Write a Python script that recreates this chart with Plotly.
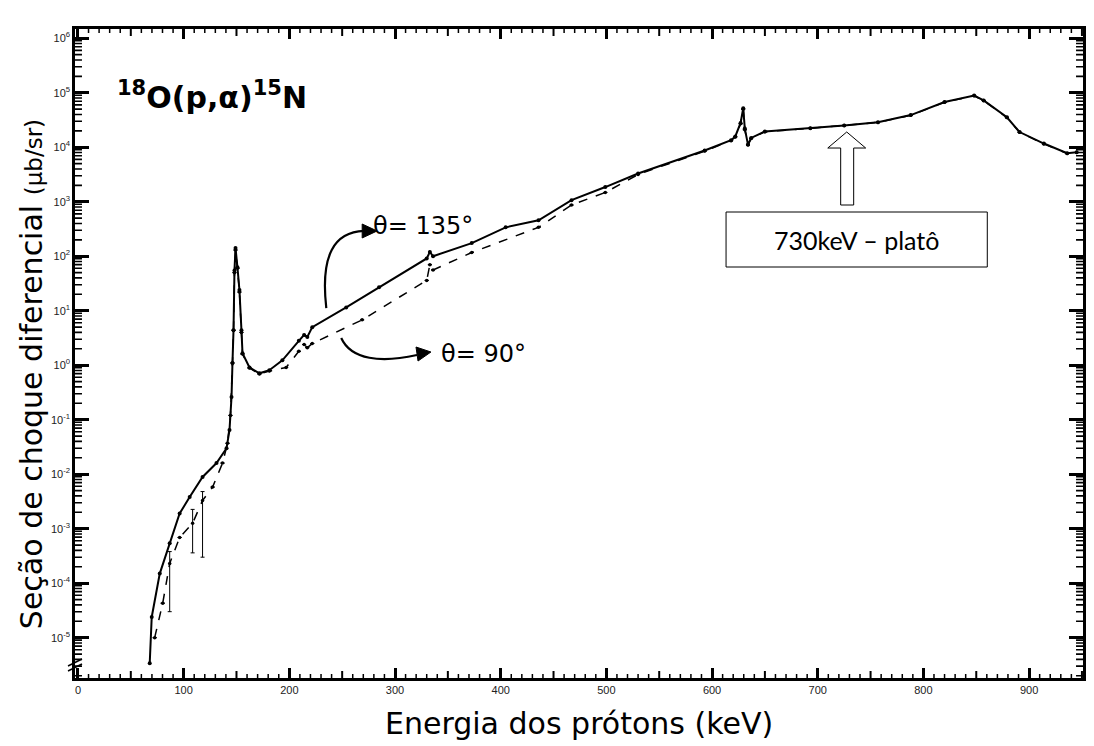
import math
import plotly.graph_objects as go

# ---------------- data ----------------
energy_135 = [67.9, 69.8, 77.4, 86.8, 96.2, 105.7, 117.9, 131.1, 140.6, 143.4, 145.3, 146.2,
              147.2, 148.1, 149.1, 150.9, 152.8, 154.7, 155.7, 162.3, 171.7, 181.1, 193.4,
              209.0, 214.0, 217.0, 221.7, 253.8, 284.9, 330.0, 333.0, 336.0, 372.6, 404.7,
              435.8, 467.0, 499.0, 530.0, 593.0, 618.0, 622.0, 627.0, 629.5, 631.0, 634.0,
              637.0, 650.0, 693.0, 725.0, 757.0, 788.0, 820.0, 848.0, 857.0, 879.0, 891.0,
              914.0, 936.0, 945.0]
sigma_135 = [3.4e-6, 2.4e-5, 1.5e-4, 5.4e-4, 1.9e-3, 3.8e-3, 8.9e-3, 1.6e-2, 3.0e-2, 6.5e-2,
             0.26, 1.1, 4.4, 55, 141, 63, 24, 4.4, 1.66, 0.91, 0.71, 0.81, 1.23,
             2.8, 3.6, 3.3, 5.0, 11.5, 27, 91, 120, 100, 174, 339,
             457, 1070, 1860, 3300, 8700, 13500, 15800, 28000, 52000, 22000, 11200,
             14800, 19500, 22400, 25100, 28800, 38900, 67600, 89000, 72400, 35500, 19000,
             11700, 7800, 8100]

energy_90 = [72.6, 80.2, 86.8, 96.2, 108.5, 117.9, 127.4, 136.8, 141.5, 144.3, 146.2, 147.2,
             148.1, 149.1, 150.9, 152.8, 154.7, 155.7, 162.3, 171.7, 181.1, 197.0, 209.0,
             214.0, 217.0, 221.7, 268.9, 330.0, 333.0, 336.0, 372.6, 435.8, 467.0, 499.0,
             530.0, 593.0, 618.0, 622.0, 627.0, 629.5, 631.0, 634.0, 637.0, 650.0, 693.0,
             725.0, 757.0, 788.0, 820.0, 848.0, 857.0, 879.0, 891.0, 914.0, 936.0, 945.0]
sigma_90 = [1.0e-5, 4.3e-5, 2.3e-4, 6.9e-4, 1.26e-3, 3.3e-3, 5.8e-3, 1.6e-2, 3.7e-2, 0.12,
            1.1, 4.4, 50, 130, 60, 22, 4.0, 1.6, 0.89, 0.69, 0.78, 0.91, 1.8,
            2.4, 2.1, 2.5, 6.8, 36, 70, 56, 117, 339, 870, 1480,
            3160, 8500, 13200, 15500, 27000, 50000, 21000, 11000, 14500, 19300, 22200,
            25000, 28600, 38500, 67000, 88000, 72000, 35000, 18800, 11500, 7700, 8000]
err_plus_90 = [0, 0, 1.5e-4, 0, 1.0e-3, 1.5e-3, 0, 0, 0, 0] + [0] * 46
err_minus_90 = [0, 0, 2.0e-4, 0, 9.0e-4, 3.0e-3, 0, 0, 0, 0] + [0] * 46

x_ticks = [0, 100, 200, 300, 400, 500, 600, 700, 800, 900]
y_exponents = [-5, -4, -3, -2, -1, 0, 1, 2, 3, 4, 5, 6]

label_135 = "θ= 135°"
label_90 = "θ= 90°"
reaction = "<sup>18</sup>O(p,α)<sup>15</sup>N"
plateau_text = "730keV – platô"

X_RANGE = [-2.8, 951]
Y_RANGE = [-5.74, 6.17]

# ---------------- geometry (page pixels; the page body adds an 8 px margin) ----------------
OFF = 8
FIG_W, FIG_H = 1094 - OFF, 746 - OFF
L, R, T, B = 75 - OFF, 1086 - OFF, 29 - OFF, 678 - OFF   # plot area in figure pixels
W, H = R - L, B - T


def px(x):          # page x pixel -> paper fraction
    return (x - OFF - L) / W


def py(y):          # page y pixel -> paper fraction
    return (B - (y - OFF)) / H


def xfrac(v):       # axis value -> paper fraction (tick placement only)
    return (v - X_RANGE[0]) / (X_RANGE[1] - X_RANGE[0])


def yfrac(v):
    return (math.log10(v) - Y_RANGE[0]) / (Y_RANGE[1] - Y_RANGE[0])


fig = go.Figure()

fig.add_trace(go.Scatter(
    x=energy_90, y=sigma_90, mode="lines+markers", name=label_90,
    line=dict(color="black", width=1.5, dash="dash"),
    marker=dict(color="black", size=3.5),
    error_y=dict(type="data", array=err_plus_90, arrayminus=err_minus_90,
                 color="black", thickness=1, width=2),
))
fig.add_trace(go.Scatter(
    x=energy_135, y=sigma_135, mode="lines+markers", name=label_135,
    line=dict(color="black", width=2),
    marker=dict(color="black", size=4),
))

tick_font = dict(family="Liberation Sans, Arial", size=11, color="#222222")

fig.update_layout(
    xaxis=dict(
        range=X_RANGE, tickmode="array", tickvals=x_ticks,
        ticktext=[str(v) for v in x_ticks],
        ticks="inside", ticklen=10, tickwidth=2.5, tickcolor="black",
        showline=True, linewidth=2.5, linecolor="black", mirror="allticks",
        showgrid=False, zeroline=False, tickfont=tick_font,
    ),
    yaxis=dict(
        type="log", range=Y_RANGE, tickmode="array",
        tickvals=[10.0 ** e for e in y_exponents],
        ticktext=["10<sup>%d</sup>" % e for e in y_exponents],
        ticks="inside", ticklen=14, tickwidth=2.5, tickcolor="black",
        showline=True, linewidth=2.5, linecolor="black", mirror="allticks",
        showgrid=False, zeroline=False, tickfont=tick_font,
    ),
)

shapes = []


def tick_path(segments):
    return " ".join("M %.5f %.5f L %.5f %.5f" % s for s in segments)


# minor tick marks on all four sides of the frame
xmid = [v for v in range(50, 951, 100)]
xmin = [v for v in range(10, 951, 10) if v % 50]
ymin = [m * 10.0 ** e for e in range(-6, 7) for m in range(2, 10)]
ymin = [v for v in ymin if Y_RANGE[0] < math.log10(v) < Y_RANGE[1]]

for vals, ln, wd in ((xmid, 7, 2), (xmin, 4, 1.5)):
    segs = []
    for v in vals:
        f = xfrac(v)
        segs.append((f, 0, f, ln / H))
        segs.append((f, 1, f, 1 - ln / H))
    shapes.append(dict(type="path", xref="paper", yref="paper", path=tick_path(segs),
                       line=dict(color="black", width=wd)))
segs = []
for v in ymin:
    f = yfrac(v)
    segs.append((0, f, 7 / W, f))
    segs.append((1, f, 1 - 7 / W, f))
shapes.append(dict(type="path", xref="paper", yref="paper", path=tick_path(segs),
                   line=dict(color="black", width=1.6)))

# curved arrow to theta=135
shapes.append(dict(type="path", xref="paper", yref="paper",
                   path="M %.4f %.4f C %.4f %.4f, %.4f %.4f, %.4f %.4f" % (
                       px(327), py(308), px(321), py(255), px(335), py(232), px(365), py(231)),
                   line=dict(color="black", width=2.2)))
shapes.append(dict(type="path", xref="paper", yref="paper",
                   path="M %.4f %.4f L %.4f %.4f L %.4f %.4f Z" % (
                       px(378), py(231), px(363), py(224), px(363), py(238)),
                   fillcolor="black", line=dict(color="black", width=1)))
# curved arrow to theta=90
shapes.append(dict(type="path", xref="paper", yref="paper",
                   path="M %.4f %.4f C %.4f %.4f, %.4f %.4f, %.4f %.4f" % (
                       px(342), py(338), px(352), py(360), px(382), py(363), px(418), py(355)),
                   line=dict(color="black", width=2.2)))
shapes.append(dict(type="path", xref="paper", yref="paper",
                   path="M %.4f %.4f L %.4f %.4f L %.4f %.4f Z" % (
                       px(432), py(352), px(417), py(347), px(419), py(361)),
                   fillcolor="black", line=dict(color="black", width=1)))
# plateau box
shapes.append(dict(type="rect", xref="paper", yref="paper",
                   x0=px(728), x1=px(990), y0=py(267), y1=py(212),
                   line=dict(color="black", width=1), fillcolor="white"))
# hollow up arrow
shapes.append(dict(type="path", xref="paper", yref="paper",
                   path=("M %.4f %.4f L %.4f %.4f L %.4f %.4f L %.4f %.4f L %.4f %.4f "
                         "L %.4f %.4f L %.4f %.4f Z") % (
                       px(843), py(205), px(843), py(148), px(830), py(148),
                       px(849), py(132), px(868), py(148), px(856), py(148),
                       px(856), py(205)),
                   fillcolor="white", line=dict(color="black", width=1)))
# axis break mark
for dy in (0, 5):
    shapes.append(dict(type="line", xref="paper", yref="paper",
                       x0=px(68), y0=py(671 - dy), x1=px(82), y1=py(664 - dy),
                       line=dict(color="black", width=1.5)))

big_font = "DejaVu Sans, Liberation Sans, Arial"
annotations = [
    dict(text="<b>" + reaction + "</b>", x=px(115), y=py(96), xref="paper", yref="paper",
         xanchor="left", yanchor="middle", showarrow=False,
         font=dict(family=big_font, size=30, color="black")),
    dict(text=label_135, x=px(372), y=py(226), xref="paper", yref="paper",
         xanchor="left", yanchor="middle", showarrow=False,
         font=dict(family=big_font, size=24, color="black")),
    dict(text=label_90, x=px(440), y=py(354), xref="paper", yref="paper",
         xanchor="left", yanchor="middle", showarrow=False,
         font=dict(family=big_font, size=24, color="black")),
    dict(text=plateau_text, x=px(859), y=py(240), xref="paper", yref="paper",
         xanchor="center", yanchor="middle", showarrow=False,
         font=dict(family="Lato, Liberation Sans", size=25, color="black")),
    dict(text="Seção de choque diferencial <span style='font-size:23px'>(μb/sr)</span>",
         x=px(31), y=py(374), xref="paper", yref="paper", textangle=-90,
         xanchor="center", yanchor="middle", showarrow=False,
         font=dict(family=big_font, size=30, color="black")),
    dict(text="Energia dos prótons (keV)", x=px(580), y=py(724), xref="paper", yref="paper",
         xanchor="center", yanchor="middle", showarrow=False,
         font=dict(family=big_font, size=30, color="black")),
]

fig.update_layout(
    width=FIG_W, height=FIG_H,
    margin=dict(l=L, r=FIG_W - R, t=T, b=FIG_H - B),
    plot_bgcolor="white", paper_bgcolor="white",
    showlegend=False, shapes=shapes, annotations=annotations,
)

fig.write_html("out.html")
